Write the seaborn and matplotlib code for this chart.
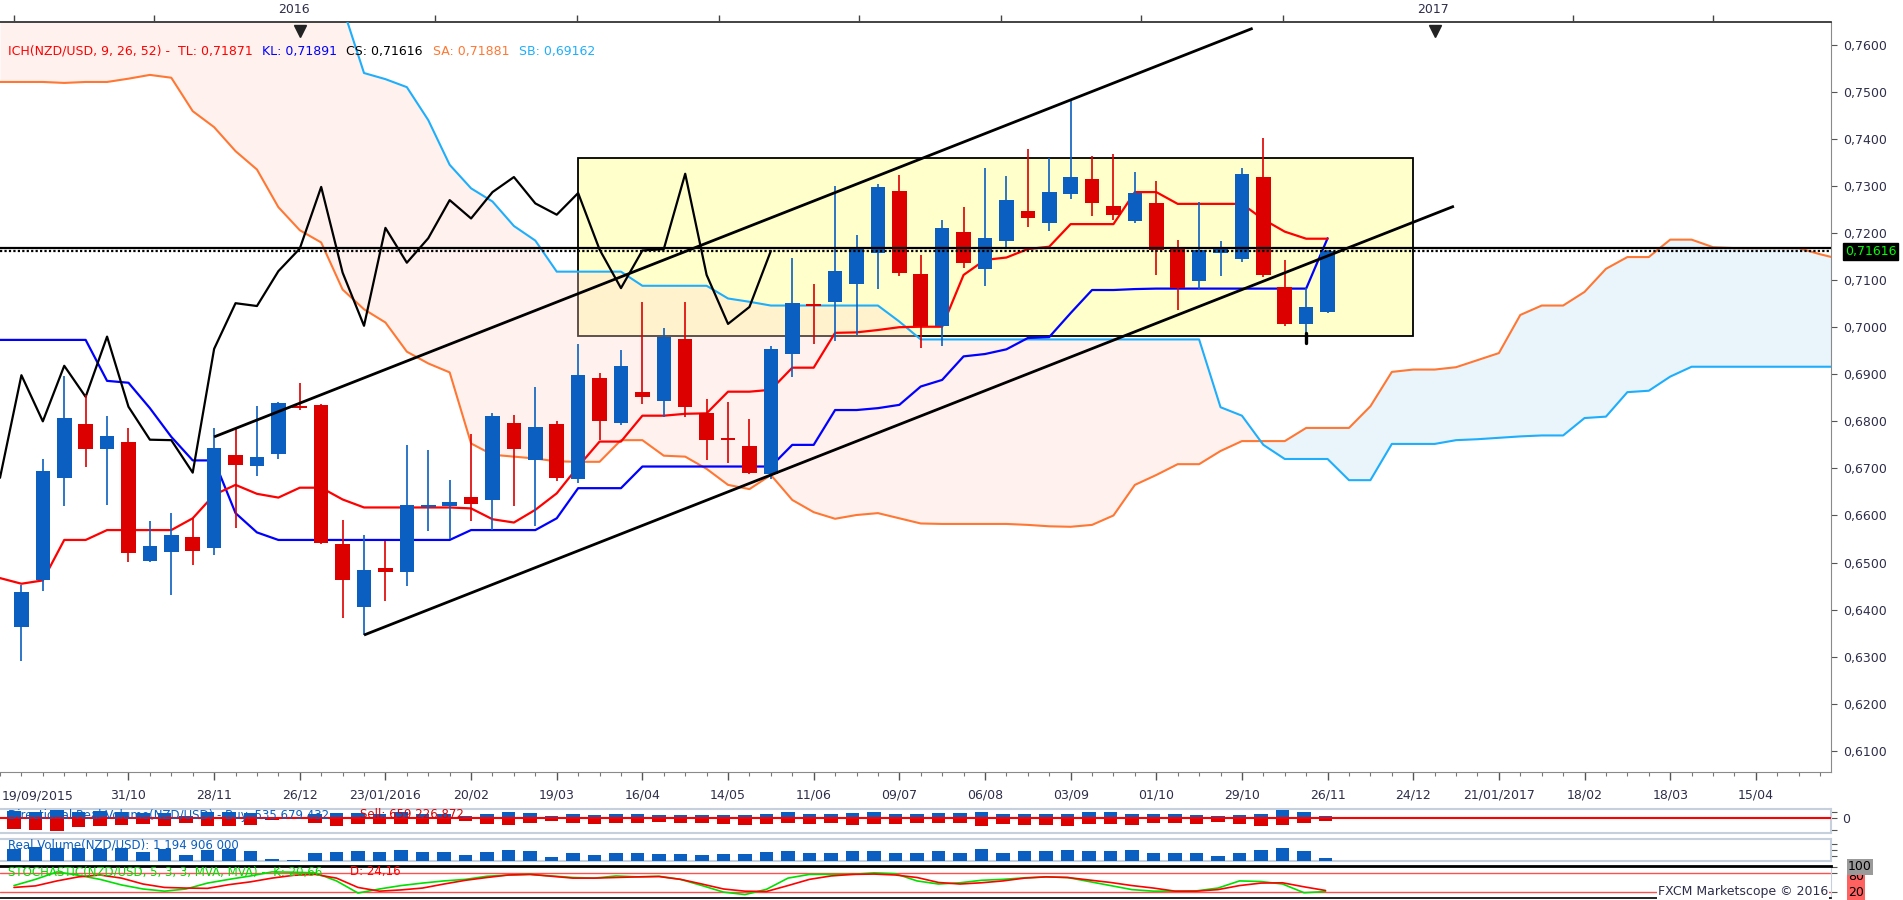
import matplotlib
matplotlib.use("Agg")
import matplotlib.pyplot as plt
import matplotlib.transforms as mtransforms
from matplotlib.patches import Rectangle
import numpy as np
import pandas as pd
import seaborn as sns

# ---------------- data (weekly NZD/USD, 26/09/2015 .. 26/11/2016) ----------------
opens = [0.6364, 0.6463, 0.6680, 0.6794, 0.6742, 0.6756, 0.6504, 0.6523, 0.6554, 0.6530,
         0.6729, 0.6705, 0.6731, 0.6833, 0.6835, 0.6540, 0.6406, 0.6489, 0.6479, 0.6617,
         0.6621, 0.6639, 0.6633, 0.6797, 0.6717, 0.6794, 0.6678, 0.6892, 0.6797, 0.6862,
         0.6844, 0.6975, 0.6817, 0.6765, 0.6748, 0.6688, 0.6944, 0.7050, 0.7054, 0.7092,
         0.7158, 0.7289, 0.7113, 0.7003, 0.7202, 0.7124, 0.7184, 0.7247, 0.7222, 0.7282,
         0.7315, 0.7258, 0.7226, 0.7264, 0.7168, 0.7098, 0.7158, 0.7145, 0.7319, 0.7086,
         0.7007, 0.7033]
highs = [0.6452, 0.6720, 0.6897, 0.6856, 0.6811, 0.6786, 0.6588, 0.6605, 0.6594, 0.6786,
         0.6785, 0.6833, 0.6842, 0.6881, 0.6836, 0.6591, 0.6559, 0.6545, 0.6750, 0.6739,
         0.6676, 0.6773, 0.6817, 0.6814, 0.6873, 0.6801, 0.6964, 0.6903, 0.6952, 0.7054,
         0.6998, 0.7054, 0.6848, 0.6841, 0.6805, 0.6960, 0.7146, 0.7092, 0.7299, 0.7196,
         0.7305, 0.7323, 0.7153, 0.7228, 0.7256, 0.7338, 0.7321, 0.7379, 0.7360, 0.7484,
         0.7364, 0.7368, 0.7330, 0.7311, 0.7185, 0.7266, 0.7183, 0.7338, 0.7402, 0.7143,
         0.7083, 0.7165]
lows = [0.6291, 0.6440, 0.6621, 0.6702, 0.6623, 0.6502, 0.6502, 0.6431, 0.6495, 0.6516,
        0.6574, 0.6683, 0.6721, 0.6824, 0.6540, 0.6383, 0.6346, 0.6419, 0.6450, 0.6566,
        0.6549, 0.6588, 0.6569, 0.6620, 0.6578, 0.6673, 0.6670, 0.6760, 0.6792, 0.6837,
        0.6809, 0.6810, 0.6718, 0.6712, 0.6688, 0.6678, 0.6895, 0.6965, 0.6971, 0.6983,
        0.7082, 0.7109, 0.6955, 0.6959, 0.7125, 0.7088, 0.7171, 0.7212, 0.7205, 0.7273,
        0.7237, 0.7228, 0.7222, 0.7111, 0.7037, 0.7081, 0.7109, 0.7139, 0.7107, 0.7003,
        0.6987, 0.7030]
closes = [0.6437, 0.6695, 0.6807, 0.6742, 0.6769, 0.6521, 0.6535, 0.6559, 0.6525, 0.6743,
          0.6707, 0.6724, 0.6839, 0.6829, 0.6542, 0.6462, 0.6484, 0.6479, 0.6622, 0.6622,
          0.6628, 0.6625, 0.6811, 0.6742, 0.6788, 0.6680, 0.6898, 0.6800, 0.6918, 0.6852,
          0.6980, 0.6831, 0.6761, 0.6760, 0.6691, 0.6954, 0.7051, 0.7045, 0.7119, 0.7167,
          0.7298, 0.7116, 0.7003, 0.7211, 0.7137, 0.7189, 0.7270, 0.7231, 0.7287, 0.7319,
          0.7263, 0.7239, 0.7285, 0.7165, 0.7083, 0.7163, 0.7166, 0.7326, 0.7111, 0.7007,
          0.7043, 0.7162]

# Ichimoku lines, starting one week before the first candle
tenkan = [0.6467, 0.6455, 0.6462, 0.6548, 0.6548, 0.6569, 0.6569, 0.6569, 0.6569, 0.6594,
          0.6644, 0.6665, 0.6646, 0.6638, 0.6659, 0.6659, 0.6634, 0.6617, 0.6617, 0.6617,
          0.6617, 0.6617, 0.6615, 0.6592, 0.6585, 0.6612, 0.6647, 0.6704, 0.6757, 0.6757,
          0.6812, 0.6812, 0.6816, 0.6817, 0.6863, 0.6863, 0.6867, 0.6914, 0.6914, 0.6988,
          0.6989, 0.6994, 0.7000, 0.7001, 0.7001, 0.7111, 0.7143, 0.7148, 0.7166, 0.7171,
          0.7219, 0.7219, 0.7219, 0.7287, 0.7287, 0.7262, 0.7262, 0.7262, 0.7262, 0.7229,
          0.7203, 0.7188, 0.7188]
kijun = [0.6973, 0.6973, 0.6973, 0.6973, 0.6973, 0.6886, 0.6882, 0.6828, 0.6767, 0.6717,
         0.6717, 0.6605, 0.6564, 0.6548, 0.6548, 0.6548, 0.6548, 0.6548, 0.6548, 0.6548,
         0.6548, 0.6548, 0.6569, 0.6569, 0.6569, 0.6569, 0.6594, 0.6658, 0.6658, 0.6658,
         0.6704, 0.6704, 0.6704, 0.6704, 0.6704, 0.6704, 0.6704, 0.6750, 0.6750, 0.6824,
         0.6824, 0.6828, 0.6835, 0.6874, 0.6888, 0.6938, 0.6943, 0.6953, 0.6977, 0.6979,
         0.7030, 0.7079, 0.7079, 0.7081, 0.7082, 0.7082, 0.7082, 0.7082, 0.7082, 0.7082,
         0.7082, 0.7082, 0.7189]
senkou_a = [0.7521, 0.7521, 0.7521, 0.7519, 0.7521, 0.7521, 0.7528, 0.7536, 0.7530, 0.7459,
            0.7425, 0.7374, 0.7335, 0.7255, 0.7206, 0.7180, 0.7080, 0.7038, 0.7010, 0.6948,
            0.6923, 0.6904, 0.6753, 0.6729, 0.6725, 0.6721, 0.6715, 0.6714, 0.6714, 0.6760,
            0.6760, 0.6727, 0.6725, 0.6699, 0.6665, 0.6656, 0.6686, 0.6633, 0.6607, 0.6593,
            0.6601, 0.6605, 0.6594, 0.6583, 0.6582, 0.6582, 0.6582, 0.6582, 0.6580, 0.6577,
            0.6576, 0.6580, 0.6600, 0.6665, 0.6686, 0.6709, 0.6709, 0.6737, 0.6758, 0.6758,
            0.6758, 0.6786, 0.6786, 0.6786, 0.6832, 0.6905, 0.6910, 0.6910, 0.6915, 0.6930,
            0.6945, 0.7026, 0.7046, 0.7046, 0.7075, 0.7124, 0.7149, 0.7149, 0.7186, 0.7186,
            0.7170, 0.7168, 0.7168, 0.7168, 0.7168, 0.7155, 0.7144]
senkou_b = [0.7700, 0.7700, 0.7700, 0.7700, 0.7700, 0.7700, 0.7700, 0.7700, 0.7700, 0.7700,
            0.7700, 0.7700, 0.7700, 0.7700, 0.7700, 0.7700, 0.7680, 0.7540, 0.7527, 0.7510,
            0.7440, 0.7345, 0.7295, 0.7267, 0.7215, 0.7184, 0.7118, 0.7118, 0.7118, 0.7118,
            0.7088, 0.7088, 0.7088, 0.7088, 0.7061, 0.7054, 0.7046, 0.7046, 0.7046, 0.7046,
            0.7046, 0.7046, 0.7012, 0.6974, 0.6974, 0.6974, 0.6974, 0.6974, 0.6974, 0.6974,
            0.6974, 0.6974, 0.6974, 0.6974, 0.6974, 0.6974, 0.6974, 0.6830, 0.6812, 0.6750,
            0.6720, 0.6720, 0.6720, 0.6675, 0.6675, 0.6752, 0.6752, 0.6752, 0.6760, 0.6762,
            0.6765, 0.6768, 0.6770, 0.6770, 0.6807, 0.6810, 0.6862, 0.6865, 0.6895, 0.6916,
            0.6916, 0.6916, 0.6916, 0.6916, 0.6916, 0.6916, 0.6916]

# volume panels (millions)
buy_vol_m = [1850, 1580, 2110, 1580, 1850, 1580, 1410, 1410, 700, 1580,
             1580, 1410, 350, 260, 1230, 1410, 1410, 1230, 1580, 1230,
             1230, 700, 1230, 1580, 1410, 530, 1230, 970, 1230, 1230,
             970, 970, 880, 970, 970, 1230, 1580, 1230, 1230, 1410,
             1580, 1230, 1230, 1410, 1410, 1580, 1230, 1230, 1230, 1230,
             1580, 1580, 1230, 1230, 1230, 970, 700, 970, 1230, 2110,
             1580, 536]
sell_vol_m = [2820, 2990, 3430, 2380, 2110, 1670, 1500, 2110, 1230, 1940,
              1940, 1670, 350, 180, 1230, 1940, 1500, 1410, 1500, 1410,
              1410, 790, 1410, 1670, 1230, 790, 1230, 1410, 1230, 1230,
              1060, 1230, 1230, 1410, 1670, 1410, 1230, 1410, 1230, 1670,
              1410, 1410, 1230, 1230, 1230, 2110, 1500, 1850, 1850, 2110,
              1500, 1500, 1850, 1230, 1230, 1500, 1060, 1500, 2110, 1760,
              1230, 659]
real_vol_m = [4800, 5600, 5300, 5050, 4800, 5050, 3600, 4800, 2400, 4400,
              4650, 4000, 800, 400, 3200, 3600, 4000, 3600, 4400, 3600,
              3600, 2400, 3600, 4400, 4000, 1600, 3200, 2400, 3200, 3200,
              2800, 2800, 2400, 2800, 2800, 3600, 4000, 3200, 3200, 4000,
              4000, 3200, 3200, 4000, 3200, 4800, 3200, 4000, 4000, 4400,
              4000, 4000, 4400, 3200, 3200, 3200, 2000, 3200, 4400, 5200,
              4000, 1195]
stoch_k = [40, 60, 84, 73, 60, 42, 29, 22, 29, 48,
           60, 71, 84, 83, 81, 55, 16, 29, 40, 48,
           55, 60, 70, 74, 76, 71, 66, 64, 71, 68,
           70, 60, 40, 19, 11, 28, 64, 76, 76, 76,
           81, 78, 55, 45, 49, 57, 60, 65, 68, 66,
           53, 40, 27, 22, 22, 23, 32, 55, 53, 45,
           17, 20.66]
stoch_d = [34, 39, 55, 68, 74, 64, 45, 34, 32, 31,
           43, 52, 64, 73, 76, 64, 34, 22, 26, 32,
           45, 57, 66, 74, 76, 70, 64, 64, 66, 68,
           69, 60, 45, 29, 22, 21, 40, 60, 71, 76,
           77, 74, 66, 50, 45, 49, 55, 64, 68, 66,
           58, 50, 40, 32, 22, 22, 27, 40, 48, 49,
           36, 24.16]

# x axis labels (week index of the label) and drawing objects
date_labels = ["31/10", "28/11", "26/12", "23/01/2016", "20/02", "19/03", "16/04", "14/05",
               "11/06", "09/07", "06/08", "03/09", "01/10", "29/10", "26/11", "24/12",
               "21/01/2017", "18/02", "18/03", "15/04"]
date_label_idx = [5, 9, 13, 17, 21, 25, 29, 33, 37, 41, 45, 49, 53, 57, 61, 65, 69, 73, 77, 81]
year_labels = ["2016", "2017"]
year_idx = [13, 66]
top_minor_idx = [0, 6.5, 19.6, 26.2, 32.8, 39.3, 45.9, 52.4, 59.0, 72.5, 79.0]
price_ticks = [0.61, 0.62, 0.63, 0.64, 0.65, 0.66, 0.67, 0.68, 0.69, 0.70,
               0.71, 0.72, 0.73, 0.74, 0.75, 0.76]
trend_lines = [(9, 0.6767, 57.5, 0.7635), (16, 0.6346, 66.9, 0.7257)]
box_x = [26, 65]
box_y = [0.69807, 0.73588]
h_line = 0.71689
last_price = 0.71616
mark = (60, 0.6966, 0.6988)

# ---------------- style ----------------
sns.set_style("white")
plt.rcParams["font.family"] = ["DejaVu Sans"]

W, H = 1903, 900
fig = plt.figure(figsize=(W / 100, H / 100), dpi=100)
fig.patch.set_facecolor("white")


def rect(x0, y0, x1, y1):
    return [x0 / W, 1 - y1 / H, (x1 - x0) / W, (y1 - y0) / H]


XMIN, XMAX = -0.651, 84.51
YMIN, YMAX = 0.6055, 0.76484
BLUE_C = "#0a5fc0"
RED_C = "#dd0000"
TXT = "#2e2e4a"
GRAYL = "#c5d0dc"

ax = fig.add_axes(rect(0, 22, 1831, 772))
ax.set_facecolor("white")

n = len(closes)
idx = np.arange(n)
ext_idx = np.arange(-1, -1 + len(senkou_a))
line_idx = np.arange(-1, -1 + len(tenkan))
sa = np.array(senkou_a)
sb = np.array(senkou_b)

# box + cloud
ax.add_patch(Rectangle((box_x[0], box_y[0]), box_x[1] - box_x[0], box_y[1] - box_y[0],
                       fc="#ffffcc", ec="black", lw=1.3, zorder=1))
ax.fill_between(ext_idx, sa, sb, where=sb >= sa, interpolate=True,
                color="#ffd8cc", alpha=0.32, lw=0, zorder=2)
ax.fill_between(ext_idx, sa, sb, where=sa >= sb, interpolate=True,
                color="#a8d4f0", alpha=0.25, lw=0, zorder=2)

# ichimoku lines
df_lines = pd.DataFrame({"idx": line_idx, "tenkan": tenkan, "kijun": kijun})
df_span = pd.DataFrame({"idx": ext_idx, "sa": senkou_a, "sb": senkou_b})
df_cs = pd.DataFrame({"idx": np.arange(-1, -1 + len(closes[25:])), "cs": closes[25:]})
sns.lineplot(data=df_span, x="idx", y="sa", ax=ax, color="#ff7733", lw=1.5, zorder=3)
sns.lineplot(data=df_span, x="idx", y="sb", ax=ax, color="#1eaefc", lw=1.5, zorder=3)
sns.lineplot(data=df_lines, x="idx", y="kijun", ax=ax, color="#0000ff", lw=1.6, zorder=4)
sns.lineplot(data=df_lines, x="idx", y="tenkan", ax=ax, color="#ff0000", lw=1.6, zorder=4)
sns.lineplot(data=df_cs, x="idx", y="cs", ax=ax, color="black", lw=1.6, zorder=4)

# candles
o = np.array(opens); h = np.array(highs); l = np.array(lows); c = np.array(closes)
cols = np.where(c >= o, BLUE_C, RED_C)
ax.vlines(idx, l, h, colors=cols, lw=1.2, zorder=6)
ax.bar(idx, np.maximum(np.abs(c - o), 0.0004), bottom=np.minimum(o, c), width=0.68,
       color=cols, lw=0, zorder=7)

# drawings
for x0, y0, x1, y1 in trend_lines:
    ax.plot([x0, x1], [y0, y1], color="black", lw=2.0, zorder=8, solid_capstyle="butt")
ax.axhline(h_line, color="black", lw=1.6, zorder=9)
ax.axhline(last_price, color="black", lw=1.6, ls=(0, (1, 1)), zorder=9)
ax.plot([mark[0], mark[0]], [mark[1], mark[2]], color="black", lw=2.4, zorder=9)

ax.set_xlim(XMIN, XMAX)
ax.set_ylim(YMIN, YMAX)
ax.set_xlabel("")
ax.set_ylabel("")
ax.spines["left"].set_visible(False)
ax.spines["top"].set_color("#222222")
ax.spines["top"].set_linewidth(1.2)
ax.spines["right"].set_color("#8a8a8a")
ax.spines["bottom"].set_color("#8a8a8a")

ax.set_xticks(date_label_idx)
ax.set_xticklabels(date_labels)
ax.set_xticks(np.arange(-1, 85), minor=True)
ax.tick_params(axis="x", which="major", bottom=True, top=False, direction="out",
               length=6, width=1, color="#555555", pad=6, labelsize=9, labelcolor=TXT)
ax.tick_params(axis="x", which="minor", bottom=True, top=False, direction="out",
               length=3, width=0.8, color="#777777")
ax.yaxis.tick_right()
ax.set_yticks(price_ticks)
ax.set_yticklabels([f"{v:.4f}".replace(".", ",") for v in price_ticks])
ax.tick_params(axis="y", which="major", left=False, right=True, labelleft=False,
               labelright=True, direction="out", length=4, color="#555555", pad=5,
               labelsize=9, labelcolor=TXT)

fig.text(2 / W, 1 - 796 / H, "19/09/2015", ha="left", va="center", fontsize=9, color=TXT)

# top axis
axt = ax.twiny()
axt.set_xlim(XMIN, XMAX)
for s in ["left", "right", "bottom", "top"]:
    axt.spines[s].set_visible(False)
axt.set_xticks(year_idx)
axt.set_xticklabels(year_labels)
axt.set_xticks(top_minor_idx, minor=True)
axt.tick_params(axis="x", which="major", top=True, bottom=False, length=0, pad=4,
                labelsize=9, labelcolor=TXT)
axt.tick_params(axis="x", which="minor", top=True, bottom=False, direction="out",
                length=5, width=1, color="#444444")
ax.plot(year_idx, [0.988] * len(year_idx), transform=ax.get_xaxis_transform(),
        marker="v", ms=8, color="#222222", ls="none", clip_on=False, zorder=12)

# legend line
legend_parts = [(8, "ICH(NZD/USD, 9, 26, 52) -  TL: 0,71871", "#ff0000"),
                (262, "KL: 0,71891", "#0000ff"),
                (346, "CS: 0,71616", "black"),
                (433, "SA: 0,71881", "#ff7733"),
                (519, "SB: 0,69162", "#1eaefc")]
for x, s, col in legend_parts:
    fig.text(x / W, 1 - 51 / H, s, ha="left", va="center", fontsize=9, color=col, zorder=20)

# current price box
trans = mtransforms.blended_transform_factory(ax.transAxes, ax.transData)
ax.text(1845 / 1831, last_price, "0,71616", transform=trans, ha="left", va="center",
        fontsize=9, color="#00ff00", clip_on=False, zorder=20,
        bbox=dict(boxstyle="square,pad=0.15", fc="black", ec="black"))

# ---------------- panel 1: directional volume ----------------
ax1 = fig.add_axes(rect(0, 809, 1831, 833))
ax1.bar(idx, buy_vol_m, width=0.62, color=BLUE_C, lw=0, zorder=3)
ax1.bar(idx, -np.array(sell_vol_m), width=0.62, color=RED_C, lw=0, zorder=3)
ax1.axhline(0, color="#ff0000", lw=1.5, zorder=4)
ax1.set_xlim(XMIN, XMAX)
ax1.set_ylim(-3872, 2464)

ax2 = fig.add_axes(rect(0, 839, 1831, 861))
ax2.bar(idx, real_vol_m, width=0.62, color=BLUE_C, lw=0, zorder=3)
ax2.set_xlim(XMIN, XMAX)
ax2.set_ylim(0, 8800)

ax3 = fig.add_axes(rect(0, 866, 1831, 898))
df_st = pd.DataFrame({"idx": idx, "k": stoch_k, "d": stoch_d})
ax3.axhline(80, color="#ff5050", lw=1.0, zorder=2)
ax3.axhline(20, color="#ff5050", lw=1.0, zorder=2)
sns.lineplot(data=df_st, x="idx", y="k", ax=ax3, color="#00e000", lw=1.2, zorder=3)
sns.lineplot(data=df_st, x="idx", y="d", ax=ax3, color="#ff0000", lw=1.2, zorder=4)
ax3.set_xlim(XMIN, XMAX)
ax3.set_ylim(0, 103)

for a in (ax1, ax2, ax3):
    a.set_xlabel("")
    a.set_ylabel("")
    a.set_xticks([])
    a.spines["left"].set_visible(False)
    a.yaxis.tick_right()
for a in (ax1, ax2):
    for s in ["top", "bottom", "right"]:
        a.spines[s].set_color(GRAYL)
        a.spines[s].set_linewidth(1.5)
ax3.spines["top"].set_color("black")
ax3.spines["top"].set_linewidth(2.0)
ax3.spines["bottom"].set_color("black")
ax3.spines["bottom"].set_linewidth(1.2)
ax3.spines["right"].set_color(GRAYL)

ax1.set_yticks([1700, 0, -3100])
ax1.set_yticklabels(["", "0", ""])
ax1.tick_params(axis="y", right=True, left=False, labelright=True, labelleft=False,
                length=4, color="#555555", labelsize=9, labelcolor=TXT, pad=4)
ax2.set_yticks([2000, 4500, 7000])
ax2.set_yticklabels(["", "", ""])
ax2.tick_params(axis="y", right=True, left=False, length=4, color="#555555")
ax3.set_yticks([20, 80, 100])
ax3.set_yticklabels(["", "", ""])
ax3.tick_params(axis="y", right=True, left=False, length=4, color="#555555")

fig.text(8 / W, 1 - 815 / H, "Directional Real Volume(NZD/USD) - Buy: 535 679 432",
         ha="left", va="center", fontsize=8.5, color=BLUE_C)
fig.text(360 / W, 1 - 815 / H, "Sell: 659 226 872", ha="left", va="center",
         fontsize=8.5, color=RED_C)
fig.text(8 / W, 1 - 845 / H, "Real Volume(NZD/USD): 1 194 906 000", ha="left", va="center",
         fontsize=8.5, color=BLUE_C)
fig.text(8 / W, 1 - 872 / H, "STOCHASTIC(NZD/USD, 5, 3, 3, MVA, MVA) -  K: 20,66",
         ha="left", va="center", fontsize=8.5, color="#00dd00")
fig.text(350 / W, 1 - 872 / H, "D: 24,16", ha="left", va="center", fontsize=8.5,
         color="#ff0000")

fig.text(1848 / W, 1 - 877 / H, "80", ha="left", va="center", fontsize=9, color="black",
         bbox=dict(boxstyle="square,pad=0.1", fc="#ff6060", ec="none"))
fig.text(1848 / W, 1 - 867 / H, "100", ha="left", va="center", fontsize=9, color="black",
         bbox=dict(boxstyle="square,pad=0.1", fc="#9a9a9a", ec="none"))
fig.text(1848 / W, 1 - 893 / H, "20", ha="left", va="center", fontsize=9, color="black",
         bbox=dict(boxstyle="square,pad=0.1", fc="#ff6060", ec="none"))
fig.text(1828 / W, 1 - 891 / H, "FXCM Marketscope © 2016", ha="right", va="center",
         fontsize=9, color=TXT, bbox=dict(boxstyle="square,pad=0.1", fc="white", ec="none"))

fig.savefig("out.png", dpi=100, facecolor="white")
